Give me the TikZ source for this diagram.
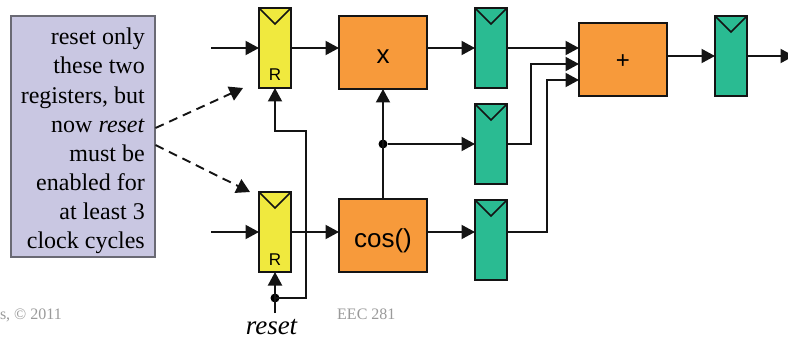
\documentclass[tikz,border=0pt]{standalone}
\usepackage{fontspec}
\setmainfont{Liberation Serif}
\setsansfont{Liberation Sans}
\usetikzlibrary{arrows.meta,calc}
\definecolor{regyellow}{HTML}{F0E93E}
\definecolor{reggreen}{HTML}{2ABB92}
\definecolor{oporange}{HTML}{F79A3B}
\definecolor{notebox}{HTML}{C9C7E2}
\definecolor{noteline}{HTML}{6A6A74}
\definecolor{footgray}{HTML}{9A9A9A}
\tikzset{
  x=1pt,y=-1pt,
  wire/.style={line width=1.9pt,draw=black!92,line join=miter,-{Triangle[length=13.5pt,width=14pt]}},
  plainwire/.style={line width=1.9pt,draw=black!92,line join=miter},
  dashwire/.style={line width=1.9pt,draw=black!92,dash pattern=on 9pt off 6pt,-{Triangle[length=13.5pt,width=15pt,sep=0pt]}},
  regbox/.style={draw=black!92,line width=2pt,minimum width=32pt,minimum height=80pt,inner sep=0pt,anchor=north west,outer sep=0pt},
  yreg/.style={regbox,fill=regyellow},
  greg/.style={regbox,fill=reggreen},
  opbox/.style={draw=black!92,line width=2pt,fill=oporange,minimum width=88pt,minimum height=73pt,inner sep=0pt,anchor=north west,outer sep=0pt},
  dotnode/.style={circle,fill=black,inner sep=0pt,minimum size=9pt},
  foot/.style={text=footgray,font=\fontsize{16}{16}\selectfont,inner sep=0pt},
  rlabel/.style={font=\sffamily\fontsize{17}{17}\selectfont,inner sep=0pt},
  notch/.style={line width=1.7pt,draw=black!92,line join=miter}
}
\newcommand{\clocknotch}[1]{\draw[notch] (#1.north west) -- ($(#1.north)+(0,16)$) -- (#1.north east);}
\begin{document}
\begin{tikzpicture}
\useasboundingbox (0,0) rectangle (788,337);
\fill[white] (0,0) rectangle (788,337);

% note
\node[draw=noteline,line width=1.2pt,fill=notebox,minimum width=144pt,minimum height=241pt,inner sep=0pt,anchor=north west,outer sep=0pt] (note) at (11,16) {};
\foreach \t/\yy in {reset only/45,these two/74,{registers, but}/103,{now \textit{reset}}/132,must be/161,enabled for/190,at least 3/219,clock cycles/248}
  \node[anchor=base east,inner sep=0pt,font=\fontsize{24}{24}\selectfont] at (145,\yy) {\t};

% blocks
\node[yreg] (ra) at (259,8) {};
\node[yreg] (rb) at (259,192) {};
\node[greg] (ga) at (475,8) {};
\node[greg] (gb) at (475,104) {};
\node[greg] (gc) at (475,200) {};
\node[greg] (gd) at (715,16) {};
\node[opbox] (mul) at (339,16) {};
\node[opbox] (cosb) at (339,199) {};
\node[opbox] (add) at (579,23) {};
\node[font=\sffamily\fontsize{26}{26}\selectfont,inner sep=0pt,anchor=base] at (383,64) {x};
\node[font=\sffamily\fontsize{26}{26}\selectfont,inner sep=0pt,anchor=base] at (383,247) {cos()};
\node[font=\sffamily\fontsize{24}{24}\selectfont,inner sep=0pt,anchor=base] at (623,69) {+};
\node[rlabel,anchor=base] at (275,81) {R};
\node[rlabel,anchor=base] at (275,265) {R};
\clocknotch{ra}\clocknotch{rb}\clocknotch{ga}\clocknotch{gb}\clocknotch{gc}\clocknotch{gd}

% free ends and junctions
\coordinate (ina) at (211,48);
\coordinate (inb) at (211,232);
\coordinate (outd) at (794,56);
\coordinate (rstend) at (275,313);
\node[dotnode] (rstdot) at (275,298) {};
\node[dotnode] (cosdot) at (383,144) {};
\coordinate (noteA) at (155.5,128);
\coordinate (noteB) at (155.5,145);
\coordinate (tipA) at (243,88);
\coordinate (tipB) at (250,192);

% connectors
\begin{scope}
\clip (0,0) rectangle (788,337);
\draw[wire] (ina) -- (ra.west |- ina);
\draw[wire] (inb) -- (rb.west |- inb);
\draw[wire] (ra.east |- ina) -- (mul.west |- ina);
\draw[wire] (rb.east |- inb) -- (cosb.west |- inb);
\draw[wire] (mul.east |- ina) -- (ga.west |- ina);
\draw[wire] (cosb.east |- inb) -- (gc.west |- inb);
\draw[wire] (cosb.north) -- (mul.south);
\draw[wire] (cosdot) -- (gb.west |- cosdot);
\draw[wire] (ga.east |- ina) -- (add.west |- ina);
\draw[wire] (gb.east |- cosdot) -| (531,64) -- (add.west |- 0,64);
\draw[wire] (gc.east |- inb) -| (547,80) -- (add.west |- 0,80);
\draw[wire] (add.east |- outd) -- (gd.west |- outd);
\draw[wire] (gd.east |- outd) -- (outd);
\draw[wire] (rstend) -- (rb.south);
\draw[wire] (rstdot.center) -| (306,131) -| (ra.south);
\draw[dashwire] (noteA) -- (tipA);
\draw[dashwire] (noteB) -- (tipB);
\end{scope}

% labels
\node[anchor=base,inner sep=0pt,font=\itshape\fontsize{27}{27}\selectfont] (rstlabel) at (271.5,334) {reset};
\node[foot,anchor=base east] (footl) at (62,319) {s, © 2011};
\node[foot,anchor=base west] (footr) at (337,319) {EEC 281};
\end{tikzpicture}
\end{document}
